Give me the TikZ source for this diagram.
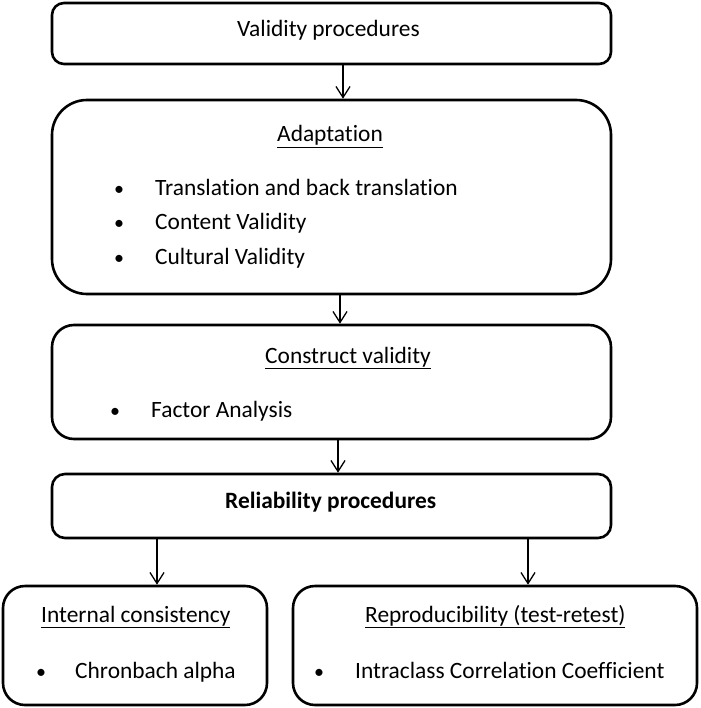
\documentclass[tikz,border=0pt]{standalone}
\usepackage{fontspec}
\setmainfont{Carlito}[Ligatures=NoCommon]
\usetikzlibrary{arrows.meta}
\begin{document}
\begin{tikzpicture}[x=1pt,y=-1pt]
	\tikzstyle{box} = [draw,rectangle,line width=2.6pt,inner sep=0pt]
	\tikzstyle{txt} = [anchor=base west,inner sep=0pt,font=\fontsize{23.4}{28}\selectfont]
	\tikzstyle{dot} = [anchor=base,inner sep=0pt,font=\fontsize{20}{24}\selectfont]
	\tikzstyle{arr} = [-{Straight Barb[length=11pt,width=14pt]},line width=1.3pt]
	\useasboundingbox (0,0) rectangle (700,708);
	\node (validity) [box,rounded corners=12pt,minimum width=559pt,minimum height=61pt] at (331.5,33.5) {};
	\node (adaptation) [box,rounded corners=35pt,minimum width=559pt,minimum height=194pt] at (331.5,197) {};
	\node (construct) [box,rounded corners=22pt,minimum width=559pt,minimum height=114pt] at (331.5,382) {};
	\node (reliability) [box,rounded corners=13pt,minimum width=559pt,minimum height=64pt] at (331.5,506) {};
	\node (internal) [box,rounded corners=22pt,minimum width=264pt,minimum height=119pt] at (135,645.5) {};
	\node (reproducibility) [box,rounded corners=22pt,minimum width=404pt,minimum height=119pt] at (495,645.5) {};

	\node (validitytxt) [txt] at (237,37) {Validity procedures};
	\node (adaptationtxt) [txt] at (277,142) {\underline{Adaptation}};
	\node (dot1) [dot] at (119,196) {\textbullet};
	\node (translation) [txt] at (155,196) {Translation and back translation};
	\node (dot2) [dot] at (119,230) {\textbullet};
	\node (content) [txt] at (155,230) {Content Validity};
	\node (dot3) [dot] at (119,264) {\textbullet};
	\node (cultural) [txt] at (155,264) {Cultural Validity};
	\node (constructtxt) [txt] at (265,363) {\underline{Construct validity}};
	\node (dot4) [dot] at (115,417) {\textbullet};
	\node (factor) [txt] at (151,417) {Factor Analysis};
	\node (reliabilitytxt) [txt] at (225,508) {\bfseries Reliability procedures};
	\node (internaltxt) [txt] at (41,622) {\underline{Internal\ consistency}};
	\node (dot5) [dot] at (41,678) {\textbullet};
	\node (chronbach) [txt] at (75,678) {Chronbach alpha};
	\node (reproducibilitytxt) [txt] at (365,622) {\underline{Reproducibility (test-retest)}};
	\node (dot6) [dot] at (319,678) {\textbullet};
	\node (intraclass) [txt] at (355,678) {Intraclass Correlation Coefficient};

	\draw[arr] ([xshift=11.5pt]validity.south) -- ([xshift=11.5pt]adaptation.north);
	\draw[arr] ([xshift=8.5pt]adaptation.south) -- ([xshift=8.5pt]construct.north);
	\draw[arr] ([xshift=6.5pt]construct.south) -- ([xshift=6.5pt]reliability.north);
	\draw[arr] ([xshift=22pt]internal.north |- reliability.south) -- ([xshift=22pt]internal.north);
	\draw[arr] ([xshift=33pt]reproducibility.north |- reliability.south) -- ([xshift=33pt]reproducibility.north);
\end{tikzpicture}
\end{document}
